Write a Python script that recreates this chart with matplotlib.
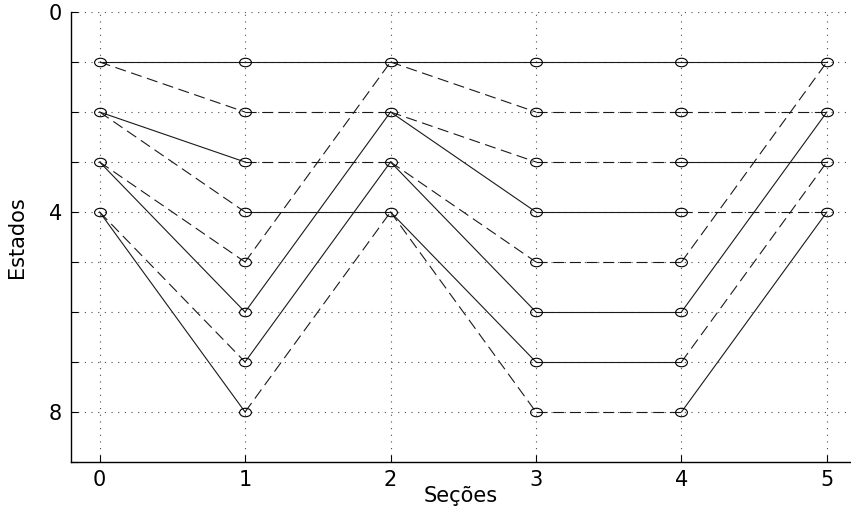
import numpy as np
import matplotlib
matplotlib.use("Agg")
import matplotlib.pyplot as plt
from matplotlib.path import Path

plt.rcParams['font.family'] = ['DejaVu Sans']

# trellis data: (section, from_state, to_state)
sections = [0, 1, 2, 3, 4, 5]
ytick_labels = ['0', '', '', '', '4', '', '', '', '8', '']

solid_edges = [
    (0, 1, 1), (0, 2, 3), (0, 3, 6), (0, 4, 8),
    (1, 1, 1), (1, 4, 4), (1, 6, 2), (1, 7, 3),
    (2, 1, 1), (2, 2, 4), (2, 3, 6), (2, 4, 7),
    (3, 1, 1), (3, 4, 4), (3, 6, 6), (3, 7, 7),
    (4, 1, 1), (4, 3, 3), (4, 6, 2), (4, 8, 4),
]
dashed_edges = [
    (0, 1, 2), (0, 2, 4), (0, 3, 5), (0, 4, 7),
    (1, 2, 2), (1, 3, 3), (1, 5, 1), (1, 8, 4),
    (2, 1, 2), (2, 2, 3), (2, 3, 5), (2, 4, 8),
    (3, 2, 2), (3, 3, 3), (3, 5, 5), (3, 8, 8),
    (4, 2, 2), (4, 4, 4), (4, 5, 1), (4, 7, 3),
]

W, H = 851, 512
fig = plt.figure(figsize=(W / 100, H / 100), dpi=100)
ax = fig.add_axes([70.5 / W, 50 / H, (856 - 70.5) / W, 450 / H])

# grid first (dotted), edges on top
for s in sections:
    ax.axvline(s, color='0.3', lw=0.8, ls=(0, (1, 5)), zorder=1)
for y in range(0, 9):
    ax.axhline(y, color='0.3', lw=0.8, ls=(0, (1, 5)), zorder=1)

for s, a, b in solid_edges:
    ax.plot([s, s + 1], [a, b], color='0.1', lw=0.8, zorder=2)
for s, a, b in dashed_edges:
    ax.plot([s, s + 1], [a, b], color='0.1', lw=0.8, ls=(0, (10, 5)), zorder=2)

# nodes
nodes = set()
for s, a, b in solid_edges + dashed_edges:
    nodes.add((s, a))
    nodes.add((s + 1, b))
nodes = sorted(nodes)
circ = Path.unit_circle()
ell = Path(circ.vertices * np.array([1.0, 0.72]), circ.codes)
ax.plot([n[0] for n in nodes], [n[1] for n in nodes], ls='none',
        marker=ell, ms=8.5, mfc='none', mec='k', mew=0.8, zorder=3)

ax.set_xlim(-0.2, 5.2)
ax.set_ylim(9, 0)
ax.set_xticks(sections)
ax.set_yticks(range(0, 10))
ax.set_yticklabels(ytick_labels)
ax.tick_params(direction='in', length=5, width=0.8, labelsize=15, pad=6)
ax.spines['top'].set_visible(False)
ax.spines['right'].set_visible(False)
ax.spines['left'].set_linewidth(1.0)
ax.spines['bottom'].set_linewidth(1.0)

ax.set_xlabel('Seções', fontsize=15)
ax.set_ylabel('Estados', fontsize=15)
ax.xaxis.set_label_coords((461 - 70.5) / (856 - 70.5), -0.053)
ax.yaxis.set_label_coords((27 - 70.5) / (856 - 70.5), 0.5)

fig.savefig('out.png', dpi=100)
